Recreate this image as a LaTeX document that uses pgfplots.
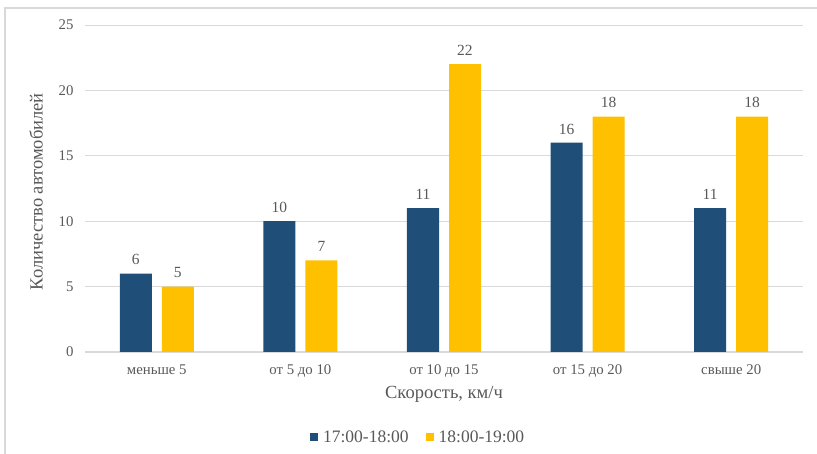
\documentclass[border=0pt]{standalone}
\usepackage{fontspec}
\setmainfont{Liberation Serif}
\usepackage{pgfplots}
\pgfplotsset{compat=1.18}

\definecolor{barblue}{HTML}{1F4E79}
\definecolor{bargold}{HTML}{FFC000}
\definecolor{gridgray}{HTML}{D9D9D9}
\definecolor{textgray}{HTML}{595959}
\definecolor{framegray}{HTML}{D9D9D9}

\begin{document}
\begin{tikzpicture}
% page extent and chart frame
\path[use as bounding box] (0pt,0pt) rectangle (817pt,454pt);
\draw[framegray, line width=1.2pt] (5pt,-2pt) -- (5pt,446pt) -- (819pt,446pt);
\begin{axis}[
  at={(85pt,102pt)}, anchor=south west,
  scale only axis,
  width=718pt, height=327pt,
  ybar=10pt, bar width=32pt,
  xmin=-0.5, xmax=4.5,
  ymin=0, ymax=25,
  ytick={0,5,...,25},
  xtick=data,
  xticklabels={меньше 5, от 5 до 10, от 10 до 15, от 15 до 20, свыше 20},
  /pgf/number format/assume math mode=true,
  tick style={draw=none},
  axis line style={draw=none},
  ymajorgrids, grid style={gridgray, line width=0.8pt},
  ticklabel style={font=\fontsize{14.8}{17}\selectfont, text=textgray},
  xticklabel style={yshift=-5pt},
  yticklabel style={xshift=-8pt},
  xlabel={Скорость, км/ч},
  ylabel={Количество автомобилей},
  label style={font=\fontsize{18.5}{21}\selectfont, text=textgray},
  xlabel style={at={(axis description cs:0.5,-0.131)}, anchor=center},
  ylabel style={at={(axis description cs:-0.068,0.49)}, anchor=center},
  nodes near coords,
  every node near coord/.append style={font=\fontsize{15.5}{17}\selectfont, text=textgray, yshift=5pt},
  legend style={draw=none, at={(axis description cs:0.464,-0.26)}, anchor=center,
    font=\fontsize{17.5}{20}\selectfont, text=textgray, legend columns=2,
    /tikz/every odd column/.append style={column sep=3pt},
    /tikz/every even column/.append style={column sep=15pt}},
  legend image code/.code={\fill[#1] (0pt,-4pt) rectangle (8pt,4pt);},
]
\draw[gridgray, line width=1pt] (axis cs:-0.5,0) -- (axis cs:4.5,0);
\addplot[fill=barblue, draw=none] coordinates {(0,6) (1,10) (2,11) (3,16) (4,11)};
\addplot[fill=bargold, draw=none] coordinates {(0,5) (1,7) (2,22) (3,18) (4,18)};
\legend{17:00-18:00, 18:00-19:00}
\end{axis}
\end{tikzpicture}
\end{document}
